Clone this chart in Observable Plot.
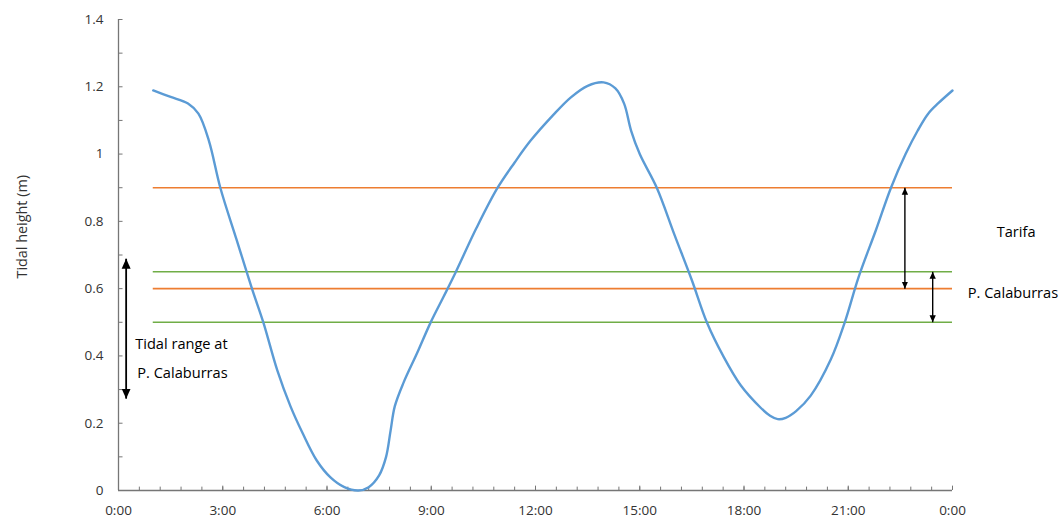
<!DOCTYPE html>
<html>
<head>
<meta charset="utf-8">
<script src="https://cdn.jsdelivr.net/npm/d3@7"></script>
<script src="https://cdn.jsdelivr.net/npm/@observablehq/plot@0.6"></script>
<style>
  html, body { margin: 0; padding: 0; background: #fff; }
  #chart svg { display: block; }
</style>
</head>
<body>
<div id="chart"></div>
<script>
// Tidal curve (hours of day, tidal height in m)
const hours = [1.0, 1.5, 2.0, 2.3, 2.6, 2.93, 3.4, 3.85, 4.17, 4.57, 4.95, 5.3, 5.7, 6.1, 6.5, 6.9, 7.2, 7.5, 7.7, 7.83, 7.95, 8.2, 8.6, 8.98, 9.35, 9.7, 10.3, 10.91, 11.4, 11.86, 12.5, 13.01, 13.5, 13.96, 14.3, 14.55, 14.75, 15.0, 15.49, 16.0, 16.5, 16.93, 17.4, 17.91, 18.48, 18.75, 18.97, 19.2, 19.5, 19.92, 20.5, 20.9, 21.3, 21.8, 22.23, 22.65, 23.0, 23.3, 23.6, 24];
const heights = [1.189, 1.17, 1.15, 1.12, 1.04, 0.9, 0.745, 0.597, 0.499, 0.357, 0.25, 0.17, 0.09, 0.039, 0.01, 0.0, 0.01, 0.045, 0.10, 0.178, 0.25, 0.32, 0.41, 0.499, 0.575, 0.648, 0.78, 0.9, 0.975, 1.04, 1.115, 1.168, 1.203, 1.213, 1.195, 1.15, 1.07, 1.0, 0.9, 0.76, 0.625, 0.5, 0.40, 0.312, 0.246, 0.222, 0.212, 0.216, 0.236, 0.282, 0.39, 0.5, 0.635, 0.775, 0.9, 1.0, 1.07, 1.12, 1.152, 1.189];

// Tidal range levels
const tarifaLevels = [0.9, 0.6];
const calaburrasLevels = [0.65, 0.5];
const levelStart = 1;
const levelEnd = 24;

// Axis ticks
const xMajorTicks = [0, 3, 6, 9, 12, 15, 18, 21, 24];
const xTickLabels = ["0:00", "3:00", "6:00", "9:00", "12:00", "15:00", "18:00", "21:00", "0:00"];
const xMinorTicks = d3.range(0, 24.001, 0.6);
const yMajorTicks = [0, 0.2, 0.4, 0.6, 0.8, 1.0, 1.2, 1.4];
const yTickLabels = ["0", "0.2", "0.4", "0.6", "0.8", "1", "1.2", "1.4"];
const yMinorTicks = [0.1, 0.3, 0.5, 0.7, 0.9, 1.1, 1.3];

// Annotation texts
const yLabel = "Tidal height (m)";
const leftNote = ["Tidal range at", "P. Calaburras"];
const rightNotes = ["Tarifa", "P. Calaburras"];

const curve = hours.map((h, i) => ({h, v: heights[i]}));
const levels = [
  ...tarifaLevels.map(v => ({v, site: "Tarifa"})),
  ...calaburrasLevels.map(v => ({v, site: "P. Calaburras"}))
];

function arrowMarker(size) {
  return (color, context) => {
    const doc = context.document;
    const ns = "http://www.w3.org/2000/svg";
    const m = doc.createElementNS(ns, "marker");
    m.setAttribute("viewBox", "-10 -5 10 10");
    m.setAttribute("markerWidth", size);
    m.setAttribute("markerHeight", size);
    m.setAttribute("markerUnits", "userSpaceOnUse");
    m.setAttribute("refX", "0");
    m.setAttribute("refY", "0");
    m.setAttribute("orient", "auto-start-reverse");
    const p = doc.createElementNS(ns, "path");
    p.setAttribute("d", "M-10,-4.5L0,0L-10,4.5Z");
    p.setAttribute("fill", color);
    p.setAttribute("stroke", "none");
    m.appendChild(p);
    return m;
  };
}

const axisColor = "#767676";
const textColor = "#333333";

const chart = Plot.plot({
  width: 1059,
  height: 518,
  marginLeft: 118,
  marginRight: 107,
  marginTop: 19,
  marginBottom: 28,
  x: {domain: [0, 24]},
  y: {domain: [0, 1.4]},
  style: {fontFamily: "'Open Sans', sans-serif", color: textColor, background: "#fff"},
  marks: [
    Plot.axisX(xMajorTicks, {tickSize: 0, tickPadding: 15, fontSize: 13.5, fill: textColor,
      tickFormat: d => xTickLabels[xMajorTicks.indexOf(d)], label: null}),
    Plot.axisY(yMajorTicks, {tickSize: 0, tickPadding: 15, fontSize: 13.5, fill: textColor,
      tickFormat: d => yTickLabels[yMajorTicks.indexOf(d)], label: null}),
    Plot.text([yLabel], {frameAnchor: "left", y: 0.784, rotate: -90, dx: -96, textAnchor: "middle",
      fontSize: 14.4, fill: textColor, text: d => d}),
    // ticks inside the frame
    Plot.ruleX(xMinorTicks, {x: d => d, y1: 0, y2: 0.010, stroke: axisColor, strokeWidth: 1}),
    Plot.ruleX(xMajorTicks, {x: d => d, y1: 0, y2: 0.013, stroke: axisColor, strokeWidth: 1}),
    Plot.ruleY(yMajorTicks.concat(yMinorTicks), {y: d => d, x1: 0, x2: 0.13, stroke: axisColor, strokeWidth: 1}),
    // axis lines
    Plot.ruleX([0], {y1: 0, y2: 1.4, stroke: axisColor, strokeWidth: 1.3}),
    Plot.ruleY([0], {x1: 0, x2: 24, stroke: axisColor, strokeWidth: 1.3}),
    // range levels
    Plot.ruleY(levels, {y: "v", x1: levelStart, x2: levelEnd,
      stroke: d => d.site === "Tarifa" ? "#ED7D31" : "#70AD47", strokeWidth: 1.6}),
    // tidal curve
    Plot.line(curve, {x: "h", y: "v", stroke: "#5B9BD5", strokeWidth: 2.4, curve: "catmull-rom"}),
    // range arrows
    Plot.link([{y1: tarifaLevels[0], y2: tarifaLevels[1]}], {x1: 22.63, x2: 22.63, y1: "y1", y2: "y2",
      stroke: "#000", strokeWidth: 1.4, markerStart: arrowMarker(7), markerEnd: arrowMarker(7)}),
    Plot.link([{y1: calaburrasLevels[0], y2: calaburrasLevels[1]}], {x1: 23.43, x2: 23.43, y1: "y1", y2: "y2",
      stroke: "#000", strokeWidth: 1.4, markerStart: arrowMarker(7), markerEnd: arrowMarker(7)}),
    Plot.link([{y1: 0.689, y2: 0.273}], {x1: 0.22, x2: 0.22, y1: "y1", y2: "y2",
      stroke: "#000", strokeWidth: 1.8, markerStart: arrowMarker(10), markerEnd: arrowMarker(10)}),
    // notes
    Plot.text([leftNote[0]], {x: 0.48, y: 0.434, text: d => d, textAnchor: "start", fontSize: 14.6, fill: "#000"}),
    Plot.text([leftNote[1]], {x: 0.54, y: 0.348, text: d => d, textAnchor: "start", fontSize: 14.6, fill: "#000"}),
    Plot.text([rightNotes[0]], {x: 25.83, y: 0.766, text: d => d, textAnchor: "middle", fontSize: 14.6, fill: "#000"}),
    Plot.text([rightNotes[1]], {x: 25.74, y: 0.585, text: d => d, textAnchor: "middle", fontSize: 14.6, fill: "#000"})
  ]
});
document.getElementById("chart").appendChild(chart);
</script>
</body>
</html>
